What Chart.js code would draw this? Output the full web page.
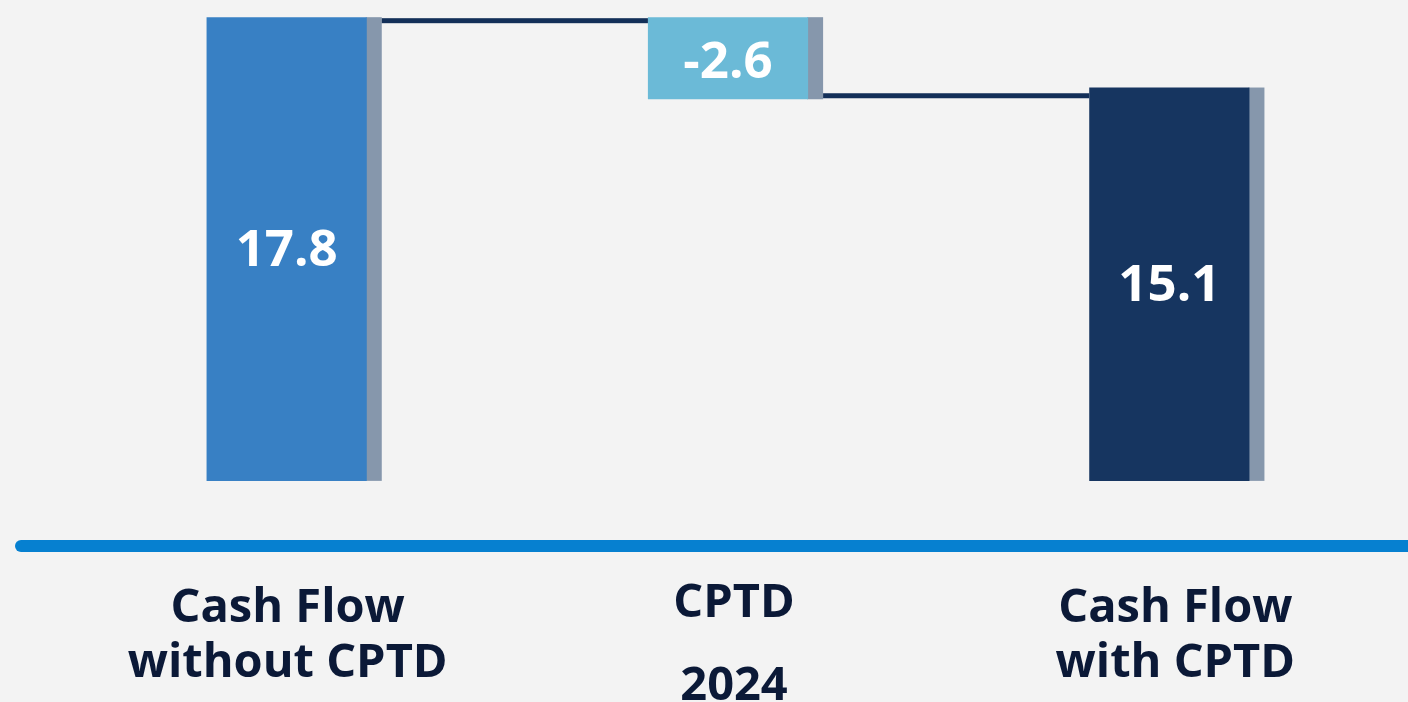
<!DOCTYPE html>
<html>
<head>
<meta charset="utf-8">
<script src="https://cdn.jsdelivr.net/npm/chart.js@4/dist/chart.umd.min.js"></script>
<style>
  html, body { margin: 0; padding: 0; background: #f3f3f3; }
  #wrap { width: 1408px; height: 702px; }
</style>
</head>
<body>
<div id="wrap"><canvas id="c" width="1408" height="702"></canvas></div>
<script>
// ---- data ----
const categories = [['Cash Flow', 'without CPTD'], ['CPTD', '2024'], ['Cash Flow', 'with CPTD']];
const barStart = [0, 14.65, 0];
const barEnd = [17.8, 17.8, 15.1];
const valueLabels = ['17.8', '-2.6', '15.1'];
const barColors = ['#3880c4', '#6bbad7', '#163560'];

const shadowColor = '#8697ac';
const connectorColor = '#132f58';
const textColor = '#0b1937';
const axisColor = '#0680d0';

const waterfallPlugin = {
  id: 'waterfall',
  beforeDraw(chart) {
    const ctx = chart.ctx;
    ctx.save();
    ctx.fillStyle = '#f3f3f3';
    ctx.fillRect(0, 0, chart.width, chart.height);
    ctx.restore();
  },
  beforeDatasetsDraw(chart) {
    const ctx = chart.ctx;
    const meta = chart.getDatasetMeta(0);
    ctx.save();
    ctx.fillStyle = shadowColor;
    meta.data.forEach(el => {
      const p = el.getProps(['x', 'y', 'base', 'width'], true);
      const right = p.x + p.width / 2;
      const top = Math.min(p.y, p.base);
      const h = Math.abs(p.base - p.y);
      ctx.fillRect(right - 1, top, 16, h);
    });
    ctx.restore();
  },
  afterDatasetsDraw(chart) {
    const ctx = chart.ctx;
    const meta = chart.getDatasetMeta(0);
    const els = meta.data.map(el => el.getProps(['x', 'y', 'base', 'width'], true));
    const area = chart.chartArea;
    ctx.save();
    // connectors
    ctx.fillStyle = connectorColor;
    for (let i = 0; i < els.length - 1; i++) {
      const a = els[i], b = els[i + 1];
      const x0 = a.x + a.width / 2 + 15;
      const x1 = b.x - b.width / 2;
      let y;
      if (i === 0) y = Math.min(a.y, a.base) + 1;
      else y = Math.max(a.y, a.base) - 6;
      ctx.fillRect(x0, y, x1 - x0, 5);
    }
    // value labels
    ctx.fillStyle = '#ffffff';
    ctx.font = '700 51px "Open Sans"';
    ctx.textAlign = 'center';
    ctx.textBaseline = 'middle';
    els.forEach((p, i) => {
      const cy = (p.y + p.base) / 2 + (i === 1 ? 5 : 2);
      ctx.fillText(valueLabels[i], p.x, cy);
    });
    // axis line
    ctx.strokeStyle = axisColor;
    ctx.lineWidth = 12;
    ctx.lineCap = 'round';
    ctx.beginPath();
    ctx.moveTo(21, area.bottom);
    ctx.lineTo(chart.width + 20, area.bottom);
    ctx.stroke();
    // category labels
    const xs = chart.scales.x;
    ctx.fillStyle = textColor;
    ctx.font = '700 47px "Open Sans"';
    ctx.textBaseline = 'alphabetic';
    categories.forEach((lines, i) => {
      const x = xs.getPixelForValue(i) + (i === 0 ? 1 : 6);
      const offs = (i === 1) ? [71, 154] : [76, 131];
      lines.forEach((t, j) => ctx.fillText(t, x, area.bottom + offs[j]));
    });
    ctx.restore();
  }
};

new Chart(document.getElementById('c'), {
  type: 'bar',
  data: {
    labels: categories.map(c => c.join(' ')),
    datasets: [{
      data: barStart.map((s, i) => [s, barEnd[i]]),
      backgroundColor: barColors,
      borderWidth: 0,
      borderSkipped: false,
      barPercentage: 1,
      categoryPercentage: 0.363
    }]
  },
  options: {
    responsive: false,
    animation: false,
    devicePixelRatio: 1,
    layout: { padding: { left: 66, right: 18, top: 0, bottom: 156 } },
    plugins: { legend: { display: false }, tooltip: { enabled: false } },
    scales: {
      x: { display: false },
      y: { display: false, min: -2.5, max: 18.46 }
    }
  },
  plugins: [waterfallPlugin]
});
</script>
</body>
</html>
